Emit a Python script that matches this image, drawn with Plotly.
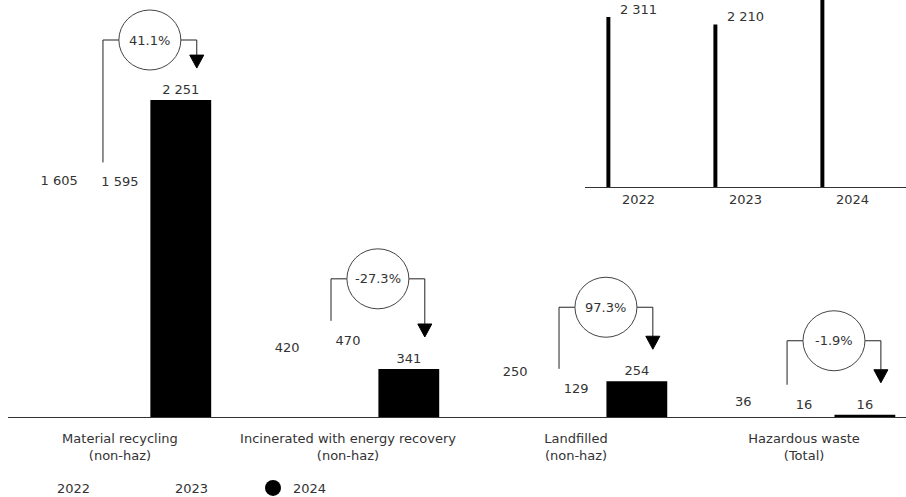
import plotly.graph_objects as go

# ---------------- data ----------------
categories = ["Material recycling<br>(non-haz)",
              "Incinerated with energy recovery<br>(non-haz)",
              "Landfilled<br>(non-haz)",
              "Hazardous waste<br>(Total)"]
years = ["2022", "2023", "2024"]
values_2022 = [1605, 420, 250, 36]
values_2023 = [1595, 470, 129, 16]
values_2024 = [2251, 341, 254, 16]
pct_change = [41.1, -27.3, 97.3, -1.9]          # 2023 -> 2024
total_years = ["2022", "2023", "2024"]
total_values = [2311, 2210, 2862]

# ---------------- layout constants ----------------
W, H = 906, 497
FONT = "DejaVu Sans"
TXT = "#333333"
FS = 13

main_plot_px = 417                     # baseline pixel
main_ymax = main_plot_px / 0.14078
u = main_ymax / main_plot_px           # data units per pixel (main)
x_left_px = 8
x_main_range = [-0.491, 3.447]
px_per_x = (W - x_left_px) / (x_main_range[1] - x_main_range[0])
bar_w = 0.8 / 3
inset_plot_px = 187
inset_ymax = inset_plot_px / 0.07356


def val_to_px(v):
    return main_plot_px - v / u


def px_to_val(p):
    return (main_plot_px - p) * u


fig = go.Figure()

series = [values_2022, values_2023, values_2024]
colors = ["white", "white", "black"]
xs = list(range(len(categories)))
for name, vals, col in zip(years, series, colors):
    fig.add_trace(go.Bar(
        x=xs, y=vals, name=name, marker=dict(color=col, line=dict(width=0)),
        texttemplate="%{y:,}", textposition="outside", cliponaxis=False,
        textfont=dict(family=FONT, size=FS, color=TXT),
        showlegend=False, xaxis="x", yaxis="y", hoverinfo="skip"))

# legend entries with circle markers
for name, col in zip(years, colors):
    fig.add_trace(go.Scatter(
        x=[None], y=[None], mode="markers", name=name,
        marker=dict(symbol="circle", size=17, color=col, line=dict(width=0)),
        xaxis="x", yaxis="y"))

# inset totals chart (values beyond the visible range keep no label)
tx = list(range(len(total_years)))
total_text = [f"{v:,}".replace(",", " ") if v <= inset_ymax else "" for v in total_values]
fig.add_trace(go.Bar(
    x=tx, y=total_values, width=0.037, offset=-0.3,
    marker=dict(color="black", line=dict(width=0)),
    xaxis="x2", yaxis="y2", showlegend=False, hoverinfo="skip"))
fig.add_trace(go.Scatter(
    x=tx, y=total_values, mode="text", text=total_text,
    textposition="top center", cliponaxis=False,
    textfont=dict(family=FONT, size=FS, color=TXT),
    xaxis="x2", yaxis="y2", showlegend=False, hoverinfo="skip"))

# ---------------- change brackets ----------------
shapes = []
annotations = []
line_style = dict(color="#222222", width=1)
for i, (v3, v4, p) in enumerate(zip(values_2023, values_2024, pct_change)):
    xl = i - 17 / px_per_x
    xr = i + bar_w + 16 / px_per_x
    xm = (xl + xr) / 2
    left_bottom_px = val_to_px(v3) - 30
    tip_px = val_to_px(v4) - 32
    top_px = max(min(left_bottom_px, tip_px) - 42, 40)
    y_left_bottom = px_to_val(left_bottom_px)
    y_tip = px_to_val(tip_px)
    y_top = px_to_val(top_px)
    y_tri_top = px_to_val(tip_px - 13)
    shapes += [
        dict(type="line", xref="x", yref="y", x0=xl, x1=xl, y0=y_left_bottom, y1=y_top, line=line_style),
        dict(type="line", xref="x", yref="y", x0=xl, x1=xr, y0=y_top, y1=y_top, line=line_style),
        dict(type="line", xref="x", yref="y", x0=xr, x1=xr, y0=y_top, y1=y_tri_top, line=line_style),
        dict(type="path", xref="x", yref="y", xsizemode="pixel", ysizemode="pixel",
             xanchor=xr, yanchor=y_tip, path="M -7,13 L 7,13 L 0,0 Z",
             fillcolor="black", line=dict(color="black", width=1)),
        dict(type="circle", xref="x", yref="y", xsizemode="pixel", ysizemode="pixel",
             xanchor=xm, yanchor=y_top, x0=-31, x1=31, y0=-30, y1=30,
             fillcolor="white", line=dict(color="#444444", width=1)),
    ]
    annotations.append(dict(
        x=xm, y=y_top, xref="x", yref="y", text=f"{p:.1f}%", showarrow=False,
        font=dict(family=FONT, size=FS, color=TXT)))

fig.update_layout(
    width=W, height=H,
    margin=dict(l=0, r=0, t=0, b=0, autoexpand=False),
    paper_bgcolor="white", plot_bgcolor="rgba(0,0,0,0)",
    separators=". ",
    barmode="group", bargap=0.2, bargroupgap=0,
    font=dict(family=FONT, size=FS, color=TXT),
    xaxis=dict(domain=[x_left_px / W, 1], range=x_main_range, tickvals=xs, ticktext=categories,
               showgrid=False, zeroline=False, showline=True, linecolor="#333333",
               linewidth=1, ticks="", ticklabelstandoff=9,
               tickfont=dict(family=FONT, size=FS, color=TXT)),
    yaxis=dict(domain=[(H - main_plot_px) / H, 1], range=[0, main_ymax], visible=False),
    xaxis2=dict(domain=[585 / W, 1], range=[-0.5, 2.5], anchor="y2", tickvals=tx,
                ticktext=total_years, showgrid=False, zeroline=False, showline=True,
                linecolor="#333333", linewidth=1, ticks="",
                tickfont=dict(family=FONT, size=FS, color=TXT)),
    yaxis2=dict(domain=[(H - inset_plot_px) / H, 1], range=[0, inset_ymax], anchor="x2",
                visible=False),
    legend=dict(orientation="h", x=17 / W, xanchor="left", y=-6 / H, yanchor="bottom",
                entrywidth=73, font=dict(family=FONT, size=FS, color=TXT),
                bgcolor="rgba(0,0,0,0)"),
    shapes=shapes,
    annotations=annotations,
)

fig.write_html("out.html", config={"displayModeBar": False},
               post_script="document.body.style.margin='0';")
